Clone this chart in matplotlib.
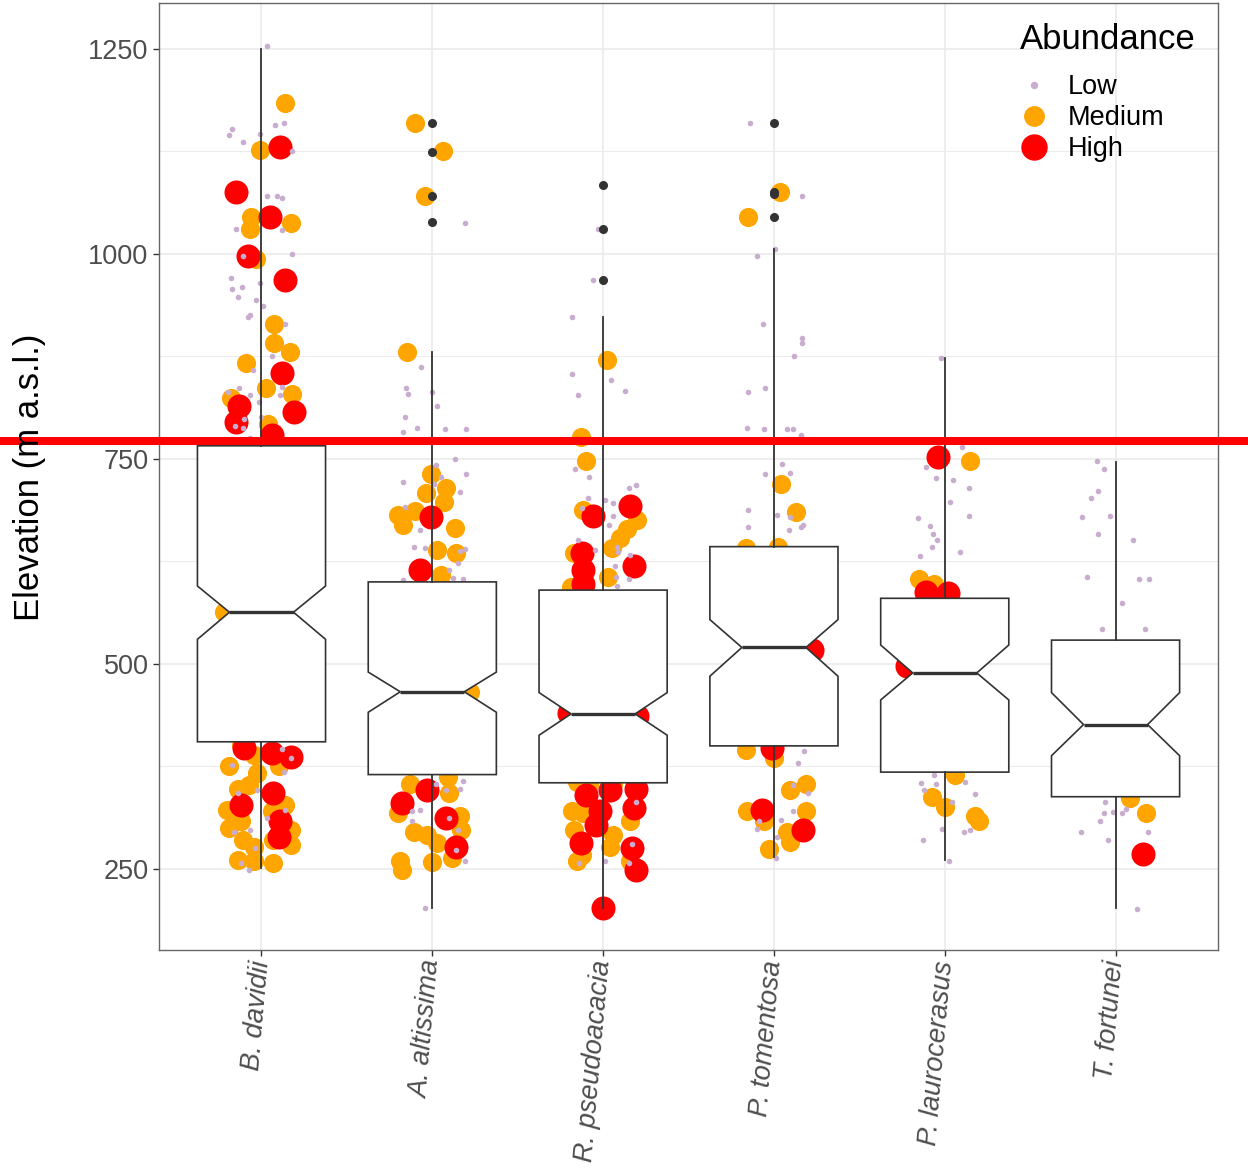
import matplotlib.pyplot as plt
from matplotlib.lines import Line2D
from matplotlib.transforms import ScaledTranslation

plt.rcParams['font.family'] = ['Liberation Sans', 'DejaVu Sans']

species = ["B. davidii", "A. altissima", "R. pseudoacacia",
           "P. tomentosa", "P. laurocerasus", "T. fortunei"]

# box statistics (m a.s.l.)
q1 = [405, 365, 355, 400, 368, 338]
med = [563, 466, 439, 520, 489, 426]
q3 = [766, 600, 590, 643, 580, 529]
whis_lo = [251, 202, 202, 265, 261, 202]
whis_hi = [1250, 880, 923, 1006, 873, 746]
notch_lo = [530, 441, 413, 485, 456, 388]
notch_hi = [595, 490, 465, 554, 523, 465]
outliers = [[], [1160, 1124, 1071, 1039], [1084, 1030, 968],
            [1160, 1076, 1073, 1045], [], []]

threshold = 772

# jittered observations: elevation and horizontal jitter per species
low_elev = [
    [1253, 1152, 1145, 1157, 1160, 1137, 1146, 1125, 1071, 1071, 1068, 1030, 1029, 997, 1000,
     971, 957, 960, 948, 965, 944, 937, 923, 925, 915, 876, 859, 836, 832, 828, 828, 838,
     820, 799, 790, 788, 801, 776, 377, 342, 346, 322, 312, 295, 298, 276, 257, 249, 396,
     385, 368],
    [1038, 862, 836, 829, 832, 815, 801, 783, 788, 786, 786, 750, 743, 732, 722, 728, 719,
     710, 691, 663, 643, 641, 638, 640, 623, 615, 605, 604, 602, 320, 322, 308, 312, 298,
     273, 260, 357, 347, 346, 354, 202],
    [923, 854, 828, 846, 833, 968, 1030, 738, 728, 715, 718, 702, 700, 696, 690, 680, 670,
     651, 639, 643, 637, 633, 619, 606, 603, 595, 257, 260, 280, 257, 332],
    [1160, 1071, 1006, 997, 914, 898, 891, 876, 832, 836, 788, 787, 787, 787, 779, 744, 733,
     731, 688, 667, 681, 679, 663, 667, 670, 394, 379, 352, 342, 308, 299, 310, 320, 289,
     263],
    [740, 727, 724, 714, 765, 697, 678, 680, 668, 659, 651, 643, 632, 637, 365, 355, 354,
     346, 356, 341, 331, 299, 285, 295, 298, 260, 873],
    [747, 738, 711, 702, 679, 680, 659, 651, 606, 603, 603, 574, 543, 543, 332, 318, 319,
     318, 323, 308, 295, 285, 295, 201],
]
low_jit = [
    [0.03, -0.17, -0.19, 0.08, 0.13, -0.11, -0.01, 0.18, 0.03, 0.09, 0.12, -0.15, 0.12, -0.11,
     0.18, -0.18, -0.17, -0.115, -0.135, -0.01, -0.03, 0.006, -0.08, -0.065, 0.135, 0.06,
     -0.05, -0.13, -0.195, -0.065, 0.11, 0.12, -0.016, -0.1, -0.155, -0.11, 0.0, -0.07,
     -0.175, -0.135, -0.025, 0.14, 0.03, -0.16, -0.065, -0.04, -0.12, -0.075, 0.12, 0.175,
     0.13],
    [0.19, -0.065, -0.155, -0.145, 0.0, 0.03, -0.16, -0.17, -0.09, 0.075, 0.2, 0.135, 0.02,
     0.2, -0.17, 0.05, 0.01, 0.16, -0.16, -0.07, -0.11, -0.04, 0.16, 0.19, 0.15, 0.1, 0.12,
     0.18, -0.17, -0.12, -0.07, -0.12, 0.1, 0.15, 0.14, 0.19, 0.18, 0.16, 0.08, 0.02, -0.04],
    [-0.18, -0.18, -0.145, 0.045, 0.13, -0.06, -0.03, -0.165, -0.08, 0.15, 0.19, -0.09, 0.01,
     0.06, -0.125, 0.06, 0.035, -0.145, -0.05, 0.08, 0.09, 0.155, 0.07, 0.075, 0.15, 0.08,
     -0.14, 0.01, 0.17, 0.15, 0.19],
    [-0.14, 0.165, 0.008, -0.1, -0.065, 0.165, 0.165, 0.12, -0.15, -0.05, -0.16, -0.06, 0.075,
     0.11, 0.16, 0.045, 0.095, -0.05, -0.15, -0.15, 0.02, 0.095, 0.09, 0.16, 0.17, 0.175,
     0.14, 0.11, 0.2, -0.085, -0.1, 0.04, 0.11, 0.02, 0.015],
    [-0.11, -0.05, 0.05, 0.14, 0.1, 0.03, -0.156, 0.14, -0.084, -0.07, -0.045, -0.072, -0.142,
     0.088, -0.06, -0.14, -0.05, -0.12, 0.12, 0.175, 0.045, -0.015, -0.13, 0.11, 0.146, 0.025,
     -0.02],
    [-0.11, -0.07, -0.1, -0.146, -0.195, -0.035, -0.1, 0.1, -0.165, 0.136, 0.193, 0.037, -0.08,
     0.174, -0.064, -0.07, -0.015, 0.037, 0.06, -0.094, -0.2, -0.045, 0.19, 0.125],
]

med_elev = [
    [1184, 1127, 1045, 1030, 1038, 994, 914, 891, 881, 867, 837, 829, 824, 792, 563, 401, 389,
     376, 367, 375, 348, 352, 322, 328, 320, 300, 308, 285, 277, 279, 285, 261, 259, 257, 298],
    [1160, 1125, 1071, 881, 732, 709, 715, 697, 682, 686, 669, 666, 639, 635, 608, 466, 354,
     362, 342, 318, 314, 297, 295, 291, 281, 263, 258, 260, 249],
    [871, 777, 747, 688, 676, 665, 653, 641, 635, 606, 594, 356, 352, 354, 320, 318, 308, 297,
     291, 277, 267, 260, 259],
    [1076, 1045, 719, 685, 641, 643, 395, 385, 354, 346, 321, 308, 320, 295, 283, 274],
    [747, 604, 598, 365, 338, 326, 314, 308],
    [336, 318],
]
med_jit = [
    [0.135, -0.01, -0.06, -0.07, 0.17, -0.035, 0.075, 0.075, 0.165, -0.09, 0.025, 0.18, -0.18,
     0.04, -0.22, -0.12, -0.045, -0.19, -0.025, 0.1, -0.14, -0.075, -0.2, 0.14, 0.06, -0.19,
     -0.12, -0.11, -0.045, 0.17, 0.07, -0.14, -0.045, 0.07, 0.17],
    [-0.1, 0.06, -0.04, -0.15, -0.01, -0.035, 0.08, 0.066, -0.2, -0.1, -0.17, 0.13, 0.03, 0.14,
     0.05, 0.22, -0.13, 0.09, 0.1, -0.2, 0.16, 0.17, -0.11, -0.03, 0.03, 0.115, 0.0, -0.19,
     -0.18],
    [0.02, -0.13, -0.1, -0.115, 0.2, 0.14, 0.1, 0.05, -0.17, 0.03, -0.19, -0.15, -0.08, 0.06,
     -0.18, -0.115, 0.16, -0.17, 0.06, 0.04, -0.125, -0.15, 0.16],
    [0.035, -0.15, 0.04, 0.13, -0.165, 0.025, -0.165, 0.002, 0.19, 0.095, -0.155, -0.06, 0.19,
     0.075, 0.095, -0.03],
    [0.15, -0.15, -0.065, 0.06, -0.075, 0.0, 0.175, 0.2],
    [0.086, 0.18],
]

high_elev = [
    [1131, 1076, 1045, 998, 968, 855, 814, 807, 795, 779, 397, 391, 387, 328, 342, 308, 289],
    [679, 614, 346, 330, 312, 277],
    [692, 680, 635, 615, 619, 598, 440, 437, 340, 346, 348, 320, 324, 304, 281, 275, 249, 202],
    [517, 397, 322, 297],
    [752, 588, 587, 497],
    [268],
]
high_jit = [
    [0.11, -0.15, 0.05, -0.08, 0.14, 0.12, -0.13, 0.19, -0.15, 0.06, -0.1, 0.06, 0.17, -0.12,
     0.07, 0.11, 0.1],
    [-0.01, -0.07, -0.03, -0.18, 0.08, 0.14],
    [0.155, -0.057, -0.125, -0.115, 0.18, -0.115, -0.2, 0.2, -0.1, 0.04, 0.19, -0.02, 0.18,
     -0.04, -0.13, 0.17, 0.19, 0.0],
    [0.22, -0.01, -0.07, 0.17],
    [-0.04, -0.11, 0.02, -0.22],
    [0.16],
]

levels = ["Low", "Medium", "High"]
level_colors = {"Low": "#C9ADCF", "Medium": "#FFA500", "High": "#FF0000"}
level_sizes = {"Low": 16, "Medium": 190, "High": 300}

fig = plt.figure(figsize=(12.48, 11.70), dpi=100)
ax = fig.add_axes([0.1274, 0.188, 0.8486, 0.8094])

# jittered points
for lvl, elevs, jits in [("Medium", med_elev, med_jit),
                         ("High", high_elev, high_jit),
                         ("Low", low_elev, low_jit)]:
    for i, (ys, js) in enumerate(zip(elevs, jits)):
        xs = [i + 1 + j for j in js]
        ax.scatter(xs, ys, s=level_sizes[lvl], color=level_colors[lvl],
                   linewidths=0, zorder=2)

# notched boxplots
stats = []
for i in range(len(species)):
    stats.append({"med": med[i], "q1": q1[i], "q3": q3[i],
                  "whislo": whis_lo[i], "whishi": whis_hi[i],
                  "cilo": notch_lo[i], "cihi": notch_hi[i],
                  "fliers": outliers[i]})
ax.bxp(stats, positions=range(1, len(species) + 1), widths=0.75,
       shownotches=True, showcaps=False, patch_artist=True,
       boxprops=dict(facecolor="white", edgecolor="#333333", linewidth=1.2),
       medianprops=dict(color="#333333", linewidth=2.4),
       whiskerprops=dict(color="#333333", linewidth=1.3),
       flierprops=dict(marker="o", markerfacecolor="#333333", markeredgecolor="#333333",
                       markersize=5.5),
       zorder=3)

# threshold line, running past the panel
ax.axhline(threshold, xmin=-0.16, xmax=1.04, color="#FF0000", linewidth=5.8,
           clip_on=False, zorder=10)

ax.set_xlim(0.4, len(species) + 0.6)
ax.set_ylim(151, 1306)
ax.set_yticks([250, 500, 750, 1000, 1250])
ax.set_yticks([375, 625, 875, 1125], minor=True)
ax.set_xticks(range(1, len(species) + 1))
ax.set_xticklabels(species, rotation=85, ha="right", va="center",
                   rotation_mode="anchor", style="italic")
shift = ScaledTranslation(7 / 100, 0, fig.dpi_scale_trans)
for lab in ax.get_xticklabels():
    lab.set_transform(lab.get_transform() + shift)
ax.tick_params(axis="both", which="major", labelsize=19.5, labelcolor="#4D4D4D",
               color="#333333", length=4.5, width=1.0, pad=3)
ax.tick_params(axis="y", which="minor", length=0)
ax.grid(which="major", color="#EBEBEB", linewidth=1.2, zorder=0)
ax.grid(which="minor", axis="y", color="#EBEBEB", linewidth=0.7, zorder=0)
ax.set_axisbelow(True)
for sp in ax.spines.values():
    sp.set_color("#666666")
    sp.set_linewidth(1.0)

# axis title drawn at figure level so it sits above the red line
fig.text(30 / 1248, (1170 - 477) / 1170, "Elevation (m a.s.l.)", fontsize=25,
         color="black", rotation=90, ha="center", va="center")

handles = [Line2D([], [], marker="o", linestyle="", color=level_colors["Low"], markersize=4.3),
           Line2D([], [], marker="o", linestyle="", color=level_colors["Medium"], markersize=14),
           Line2D([], [], marker="o", linestyle="", color=level_colors["High"], markersize=18)]
leg = ax.legend(handles, levels, title="Abundance", loc="upper left",
                bbox_to_anchor=(0.794, 1.0), frameon=False, fontsize=19.5,
                title_fontsize=25, alignment="left", labelspacing=0.18,
                handlelength=1.0, handletextpad=0.75, borderaxespad=0.35)
leg._legend_box.sep = 13

fig.savefig("out.png", dpi=100)
